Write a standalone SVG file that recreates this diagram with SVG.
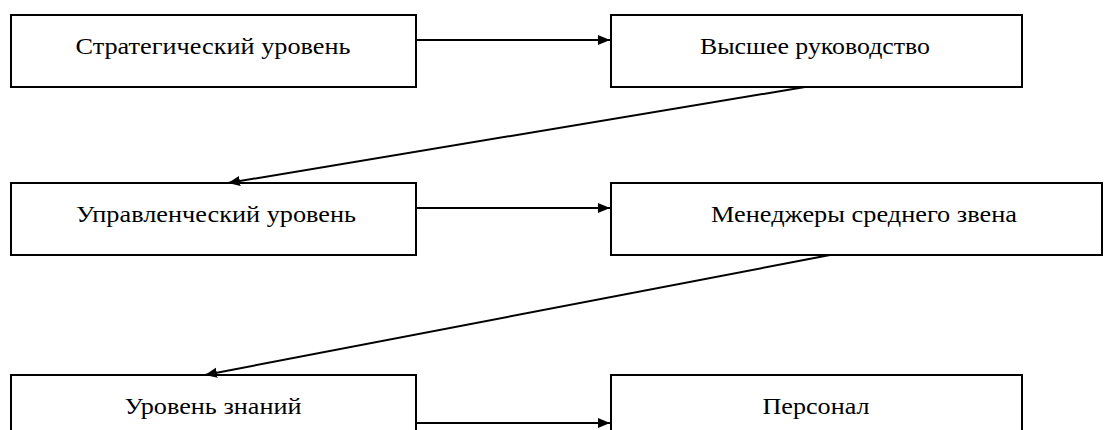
<svg xmlns="http://www.w3.org/2000/svg" width="1104" height="430" viewBox="0 0 1104 430">
  <style>
    .box { fill: #ffffff; stroke: #000000; stroke-width: 2; }
    .lbl { font-family: "Liberation Serif", "Times New Roman", serif; font-size: 23px; fill: #000000; text-anchor: middle; }
    .conn { stroke: #000000; stroke-width: 2; fill: none; marker-end: url(#arrow); }
  </style>
  <defs>
    <marker id="arrow" markerUnits="userSpaceOnUse" markerWidth="12" markerHeight="12" viewBox="0 0 12 12" refX="12" refY="6" orient="auto">
      <path d="M0,1 L12,6 L0,11 Z" fill="#000000"/>
    </marker>
  </defs>
  <rect width="1104" height="430" fill="#ffffff"/>
  <g id="node-strategic">
    <rect class="box" x="11" y="15" width="405" height="72"/>
    <text class="lbl" x="213" y="54" textLength="275" lengthAdjust="spacingAndGlyphs">Стратегический уровень</text>
  </g>
  <g id="node-top-management">
    <rect class="box" x="611" y="15" width="411" height="72"/>
    <text class="lbl" x="815" y="54" textLength="230" lengthAdjust="spacingAndGlyphs">Высшее руководство</text>
  </g>
  <g id="node-managerial">
    <rect class="box" x="11" y="183" width="405" height="72"/>
    <text class="lbl" x="216" y="222" textLength="280" lengthAdjust="spacingAndGlyphs">Управленческий уровень</text>
  </g>
  <g id="node-middle-managers">
    <rect class="box" x="611" y="183" width="491" height="72"/>
    <text class="lbl" x="864" y="222" textLength="306" lengthAdjust="spacingAndGlyphs">Менеджеры среднего звена</text>
  </g>
  <g id="node-knowledge">
    <rect class="box" x="11" y="375" width="405" height="72"/>
    <text class="lbl" x="213" y="414" textLength="177" lengthAdjust="spacingAndGlyphs">Уровень знаний</text>
  </g>
  <g id="node-staff">
    <rect class="box" x="611" y="375" width="411" height="72"/>
    <text class="lbl" x="816" y="414" textLength="107" lengthAdjust="spacingAndGlyphs">Персонал</text>
  </g>
  <g id="connectors">
    <line class="conn" x1="417" y1="40" x2="610" y2="40"/>
    <line class="conn" x1="805" y1="87" x2="228" y2="183"/>
    <line class="conn" x1="417" y1="208" x2="610" y2="208"/>
    <line class="conn" x1="830" y1="255" x2="205" y2="375"/>
    <line class="conn" x1="417" y1="423" x2="610" y2="423"/>
  </g>
</svg>
